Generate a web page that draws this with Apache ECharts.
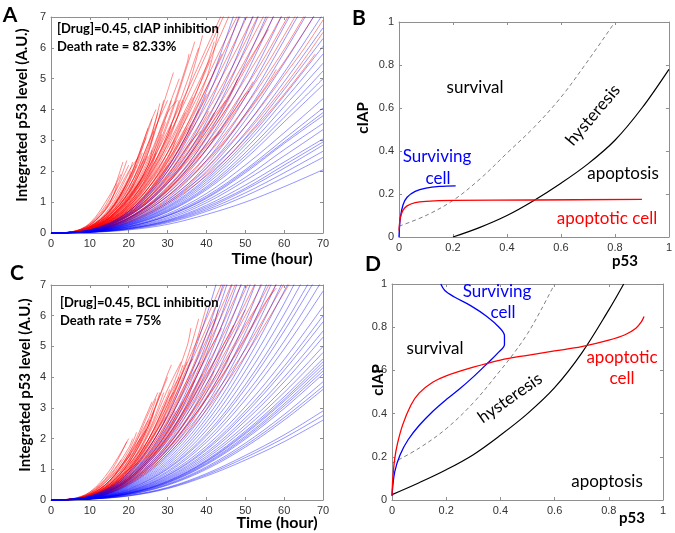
<!DOCTYPE html>
<html><head><meta charset="utf-8">
<script src="https://cdn.jsdelivr.net/npm/echarts@6/dist/echarts.min.js"></script>
<style>html,body{margin:0;padding:0;background:#fff}#c{width:675px;height:533px}</style>
</head><body><div id="c"></div>
<script>
// ---------- DATA ----------
// Red traces (dead cells): [endTime, y at t=0,5,10,... (before endTime), y at endTime]
const redTracesA = [
 [18.5,0,0.03,0.3,1.1,2.3],[19.5,0,0.03,0.26,0.95,2.35],[17,0,0.03,0.25,0.95,1.6],
 [21,0,0.03,0.22,0.8,1.95,2.3],[22,0,0.02,0.2,0.7,1.7,2.2],[23.5,0,0.02,0.2,0.7,1.6,2.6],
 [24.5,0,0.02,0.18,0.65,1.75,3.1],[26,0,0.02,0.18,0.65,1.6,3.3,3.7],[26.5,0,0.02,0.15,0.55,1.3,2.6,3.3],
 [21.5,0,0.02,0.18,0.6,1.3,1.6],[23,0,0.02,0.15,0.5,1.2,1.7],[19,0,0.02,0.2,0.7,1.5],
 [24,0,0.02,0.15,0.5,1.1,1.9],[20.5,0,0.02,0.22,0.75,1.8,2.0],[28,0,0.02,0.15,0.55,1.35,2.8,4.2],
 [29,0,0.02,0.14,0.5,1.25,2.6,4.3],[31,0,0.02,0.12,0.45,1.1,2.2,3.9,4.3],[33,0,0.02,0.12,0.4,0.95,1.9,3.2,4.3],
 [34,0,0.02,0.1,0.36,0.85,1.7,2.9,4.3],[36.5,0,0.02,0.1,0.33,0.8,1.55,2.6,4.0,4.4],[32,0,0.02,0.1,0.32,0.75,1.45,2.4,3.0],
 [30,0,0.02,0.1,0.3,0.7,1.35,2.2],[27,0,0.02,0.12,0.4,0.95,1.9,2.6],[37,0,0.02,0.13,0.42,1.0,2.0,3.5,5.4,6.2],
 [38,0,0.02,0.12,0.4,0.95,1.85,3.2,4.9,6.0],[39,0,0.02,0.11,0.38,0.9,1.75,3.0,4.6,6.4],[33,0,0.02,0.14,0.5,1.2,2.4,4.0,5.0],
 [31.5,0,0.02,0.16,0.55,1.35,2.7,4.6,5.2],[35,0,0.02,0.1,0.3,0.7,1.3,2.2,3.4],[38,0,0.02,0.09,0.28,0.65,1.25,2.1,3.2,4.0],
 [40,0,0.02,0.09,0.27,0.62,1.2,2.0,3.1,4.5],[42,0,0.02,0.1,0.32,0.75,1.45,2.45,3.8,5.4,6.2],[43,0,0.02,0.09,0.3,0.7,1.35,2.3,3.5,5.0,6.5],
 [29.5,0,0.02,0.13,0.45,1.1,2.2,3.6],[25,0,0.02,0.16,0.55,1.3,2.5],[27.5,0,0.02,0.17,0.6,1.45,2.9,3.9],
 [20,0,0.03,0.28,1.0,2.2],[22.5,0,0.03,0.25,0.9,2.0,2.45],[18,0,0.03,0.32,1.2,1.9],
 [25,0,0.02,0.2,0.72,1.75,3.4],[27,0,0.02,0.2,0.7,1.7,3.4,4.0],[30,0,0.02,0.17,0.6,1.45,2.9,4.3],
 [32.5,0,0.02,0.14,0.48,1.15,2.3,3.9,4.3],[35.5,0,0.02,0.13,0.44,1.05,2.1,3.6,5.5,5.8],
 [42,0,0.02,0.08,0.24,0.55,1.02,1.65,2.45,3.45,3.9],[46,0,0.02,0.07,0.22,0.5,0.92,1.5,2.2,3.05,4.0,4.2],
 [51,0,0.02,0.07,0.21,0.46,0.84,1.35,1.98,2.72,3.56,4.5,4.6],[44,0,0.02,0.07,0.22,0.48,0.88,1.42,2.08,2.85,3.3],
 [38.5,0,0.02,0.09,0.28,0.62,1.15,1.88,2.8,3.3],[36,0,0.02,0.1,0.31,0.7,1.3,2.15,3.2,3.5],
 [40.5,0,0.02,0.08,0.26,0.6,1.1,1.8,2.7,3.8,3.95],[28.5,0,0.02,0.13,0.45,1.05,2.05,3.2],
 [31,0,0.02,0.11,0.38,0.9,1.8,3.1,3.5],[34.5,0,0.02,0.11,0.36,0.85,1.65,2.75,3.9],
 [24,0,0.02,0.18,0.6,1.5,2.4],[26,0,0.02,0.14,0.48,1.15,2.2,2.7],
 [46,0,0.02,0.15,0.5,1.15,2.1,3.3,4.6,6.0,7.4,7.8],[48,0,0.02,0.14,0.47,1.1,1.95,3.1,4.4,5.8,7.2,8.2],
 [50,0,0.02,0.13,0.43,1.0,1.8,2.85,4.1,5.4,6.8,8.3],[52,0,0.02,0.12,0.4,0.92,1.65,2.6,3.75,5.0,6.3,7.6,8.5],
 [54,0,0.02,0.11,0.37,0.85,1.55,2.45,3.5,4.7,6.0,7.4,8.5],[56,0,0.02,0.11,0.35,0.8,1.45,2.3,3.3,4.4,5.6,6.9,8.2,8.6],
 [56,0,0.02,0.1,0.33,0.75,1.35,2.15,3.1,4.15,5.3,6.5,7.8,8.1],[60,0,0.02,0.1,0.31,0.7,1.28,2.0,2.9,3.9,5.0,6.2,7.5,8.9],
 [62,0,0.02,0.09,0.29,0.66,1.2,1.9,2.75,3.7,4.75,5.9,7.1,8.4,8.9],[60,0,0.02,0.09,0.28,0.63,1.13,1.8,2.6,3.5,4.5,5.6,6.8,8.1],
 [62,0,0.02,0.08,0.26,0.58,1.05,1.68,2.42,3.3,4.25,5.3,6.45,7.7,8.2],[65,0,0.02,0.08,0.25,0.55,1.0,1.6,2.3,3.1,4.0,5.0,6.05,7.2,8.4],
 [70,0,0.02,0.07,0.23,0.5,0.92,1.48,2.15,2.9,3.75,4.7,5.7,6.8,7.9,9.0],[70,0,0.02,0.07,0.22,0.47,0.86,1.38,2.0,2.7,3.5,4.4,5.35,6.4,7.5,8.6],
 [70,0,0.02,0.06,0.2,0.44,0.8,1.28,1.85,2.5,3.25,4.1,5.0,5.95,7.0,8.1],[70,0,0.02,0.06,0.19,0.41,0.74,1.18,1.7,2.3,3.0,3.8,4.65,5.55,6.5,7.5],
 [70,0,0.02,0.06,0.18,0.38,0.68,1.08,1.56,2.1,2.75,3.45,4.25,5.1,5.95,6.9],[70,0,0.02,0.05,0.17,0.36,0.64,1.0,1.45,1.95,2.55,3.2,3.95,4.75,5.6,6.5],
 [68,0,0.02,0.05,0.16,0.34,0.6,0.95,1.37,1.85,2.4,3.05,3.75,4.5,5.3,5.8],[58,0,0.02,0.06,0.19,0.42,0.76,1.2,1.75,2.35,3.05,3.85,4.7,5.3],
 [52,0,0.02,0.07,0.22,0.48,0.88,1.4,2.05,2.8,3.6,4.5,4.9],[48,0,0.02,0.08,0.25,0.56,1.0,1.6,2.35,3.2,4.15,5.0],
 [45,0,0.02,0.08,0.27,0.6,1.1,1.75,2.55,3.45,4.3],[56,0,0.02,0.08,0.26,0.58,1.04,1.65,2.4,3.3,4.3,5.4,6.4,6.6],
 [44,0,0.02,0.1,0.33,0.78,1.45,2.35,3.4,4.7,5.8],[41,0,0.02,0.11,0.36,0.85,1.6,2.6,3.9,5.3,5.6]
];
// Blue traces (surviving cells): y at t=0,10,20,...
const blueTracesA = [
 [0,0.02,0.1,0.28,0.6,1.0,1.5,2.05],[0,0.02,0.12,0.33,0.7,1.2,1.8,2.45],[0,0.03,0.13,0.36,0.75,1.3,1.95,2.65],
 [0,0.03,0.14,0.38,0.8,1.4,2.1,2.85],[0,0.03,0.15,0.4,0.85,1.45,2.2,2.95],[0,0.03,0.15,0.42,0.9,1.55,2.3,3.05],
 [0,0.03,0.17,0.46,0.98,1.7,2.5,3.35],[0,0.03,0.18,0.5,1.05,1.8,2.7,3.55],[0,0.04,0.2,0.55,1.12,1.95,2.9,3.8],
 [0,0.04,0.2,0.56,1.15,2.0,2.95,3.9],[0,0.04,0.21,0.58,1.2,2.05,3.05,4.05],[0,0.04,0.22,0.62,1.28,2.2,3.25,4.35],
 [0,0.04,0.24,0.68,1.4,2.4,3.6,4.8],[0,0.05,0.25,0.7,1.45,2.5,3.75,5.0],[0,0.05,0.26,0.73,1.5,2.6,3.9,5.25],
 [0,0.05,0.27,0.76,1.58,2.72,4.1,5.5],[0,0.05,0.28,0.8,1.65,2.85,4.3,5.8],[0,0.05,0.3,0.83,1.72,2.95,4.45,6.05],
 [0,0.05,0.3,0.86,1.78,3.08,4.65,6.3],[0,0.06,0.32,0.9,1.88,3.25,4.9,6.65],[0,0.06,0.33,0.95,2.0,3.45,5.2,7.1],
 [0,0.06,0.35,1.0,2.1,3.65,5.5,7.5],[0,0.06,0.37,1.05,2.2,3.85,5.85,8],[0,0.07,0.4,1.12,2.35,4.1,6.25,8.5],
 [0,0.07,0.42,1.2,2.5,4.4,6.7,9],[0,0.07,0.45,1.28,2.7,4.7,7.2],[0,0.08,0.48,1.38,2.9,5.1,7.8],
 [0,0.08,0.5,1.45,3.1,5.5,8.4],[0,0.09,0.55,1.6,3.4,6.0,9.2],[0,0.09,0.58,1.7,3.6,6.4,9.8],
 [0,0.1,0.62,1.85,3.95,7.0],[0,0.1,0.66,2.0,4.3,7.6],[0,0.11,0.7,2.1,4.6,8.2]
];
const redTracesC = [
 [19.5,0,0.03,0.25,0.85,1.9],[20.5,0,0.02,0.2,0.7,1.4,1.5],[21,0,0.03,0.22,0.75,1.7,2.0],
 [22,0,0.02,0.2,0.7,1.6,2.2],[23,0,0.02,0.17,0.6,1.4,2.0],[18,0,0.03,0.22,0.8,1.3],
 [24,0,0.02,0.15,0.5,1.15,1.8],[25.5,0,0.02,0.16,0.55,1.3,2.4,2.6],[26.5,0,0.02,0.15,0.5,1.2,2.3,2.9],
 [27,0,0.02,0.16,0.55,1.3,2.6,3.3],[28,0,0.02,0.15,0.5,1.2,2.4,3.5],[29,0,0.02,0.14,0.48,1.12,2.2,3.5],
 [22.5,0,0.02,0.14,0.45,1.0,1.2],[30.5,0,0.02,0.13,0.45,1.05,2.1,3.4,3.6],[31,0,0.02,0.14,0.5,1.2,2.4,4.1,4.4],
 [33,0,0.02,0.12,0.42,1.0,1.95,3.3,4.0],[35,0,0.02,0.11,0.38,0.9,1.75,2.95,4.5],[36,0,0.02,0.12,0.42,1.0,1.95,3.3,5.0,5.6],
 [38,0,0.02,0.11,0.38,0.92,1.8,3.0,4.6,5.9],[40,0,0.02,0.1,0.35,0.85,1.65,2.75,4.2,6.3],[32,0,0.02,0.1,0.32,0.75,1.45,2.4,2.9],
 [34,0,0.02,0.1,0.3,0.7,1.35,2.25,3.2],[37,0,0.02,0.1,0.3,0.68,1.3,2.15,3.3,3.9],[29.5,0,0.02,0.12,0.4,0.95,1.85,2.7],
 [39,0,0.02,0.09,0.28,0.65,1.25,2.05,3.1,4.1],[41,0,0.02,0.09,0.28,0.64,1.22,2.0,3.05,4.3,4.6],[43,0,0.02,0.09,0.3,0.7,1.35,2.25,3.45,4.9,6.2],
 [26,0,0.02,0.18,0.62,1.5,2.9,3.2],[33.5,0,0.02,0.13,0.46,1.1,2.15,3.6,4.5],
 [20,0,0.03,0.26,0.95,2.0],[24.5,0,0.02,0.18,0.62,1.45,2.3],[27.5,0,0.02,0.17,0.6,1.4,2.8,3.5],
 [30,0,0.02,0.15,0.52,1.25,2.5,4.0],[34,0,0.02,0.12,0.4,0.95,1.85,3.1,4.4],[38.5,0,0.02,0.1,0.33,0.78,1.5,2.5,3.8,4.5],
 [42,0,0.02,0.08,0.25,0.58,1.08,1.75,2.6,3.65,4.2],[46,0,0.02,0.08,0.24,0.54,1.0,1.62,2.4,3.35,4.4,4.7],
 [36.5,0,0.02,0.11,0.36,0.85,1.65,2.8,4.3,4.6],[25,0,0.02,0.18,0.62,1.5,2.6],[31.5,0,0.02,0.12,0.42,1.0,1.95,3.2,3.5],
 [46,0,0.02,0.13,0.45,1.05,1.95,3.1,4.45,5.9,7.4,8.0],[48,0,0.02,0.12,0.42,0.98,1.8,2.9,4.2,5.6,7.1,7.9],
 [50,0,0.02,0.11,0.39,0.9,1.68,2.7,3.9,5.2,6.6,8.1],[52,0,0.02,0.11,0.37,0.85,1.58,2.55,3.7,4.95,6.3,7.8,8.4],
 [55,0,0.02,0.1,0.34,0.8,1.48,2.4,3.45,4.65,5.95,7.3,8.7],[57,0,0.02,0.1,0.32,0.75,1.38,2.22,3.22,4.35,5.55,6.85,8.2,8.8],
 [60,0,0.02,0.09,0.3,0.7,1.28,2.06,3.0,4.05,5.2,6.4,7.7,9.0],[62,0,0.02,0.09,0.28,0.65,1.2,1.93,2.8,3.78,4.85,6.0,7.2,8.5,9.0],
 [65,0,0.02,0.08,0.26,0.6,1.1,1.78,2.6,3.5,4.5,5.6,6.75,8.0,9.2],[60,0,0.02,0.08,0.24,0.56,1.03,1.66,2.43,3.28,4.22,5.25,6.35,7.5],
 [65,0,0.02,0.07,0.23,0.52,0.96,1.55,2.27,3.07,3.95,4.9,5.95,7.05,8.1],[66,0,0.02,0.07,0.22,0.5,0.92,1.48,2.16,2.93,3.78,4.7,5.7,6.75,7.8,8.0],
 [58,0,0.02,0.08,0.25,0.57,1.05,1.68,2.45,3.3,4.25,5.3,6.4,6.9],[54,0,0.02,0.08,0.27,0.62,1.14,1.82,2.65,3.6,4.6,5.7,6.5],
 [50,0,0.02,0.09,0.29,0.68,1.25,2.0,2.9,3.95,5.05,6.2],[47,0,0.02,0.09,0.3,0.7,1.3,2.1,3.05,4.1,5.2,5.7],
 [44,0,0.02,0.1,0.32,0.75,1.4,2.3,3.4,4.7,5.6],[42,0,0.02,0.11,0.36,0.85,1.6,2.6,3.9,5.4,5.9]
];
const blueTracesC = [
 [0,0.03,0.13,0.37,0.78,1.3,1.9,2.6],[0,0.03,0.14,0.39,0.82,1.38,2.02,2.75],[0,0.03,0.15,0.41,0.86,1.45,2.12,2.9],
 [0,0.03,0.17,0.48,1.0,1.72,2.6,3.6],[0,0.03,0.18,0.5,1.04,1.78,2.68,3.7],[0,0.04,0.19,0.52,1.08,1.85,2.78,3.85],
 [0,0.04,0.2,0.55,1.15,1.98,2.98,4.1],[0,0.04,0.21,0.57,1.18,2.03,3.06,4.2],[0,0.04,0.21,0.58,1.21,2.08,3.13,4.3],
 [0,0.04,0.22,0.6,1.25,2.15,3.22,4.4],[0,0.04,0.22,0.61,1.27,2.19,3.28,4.5],[0,0.04,0.23,0.63,1.3,2.24,3.36,4.6],
 [0,0.04,0.24,0.66,1.36,2.34,3.5,4.8],[0,0.05,0.25,0.69,1.42,2.44,3.65,5.0],[0,0.05,0.26,0.72,1.49,2.57,3.85,5.3],
 [0,0.05,0.27,0.75,1.55,2.67,4.0,5.5],[0,0.05,0.28,0.79,1.63,2.81,4.22,5.8],[0,0.05,0.29,0.81,1.68,2.9,4.35,6.0],
 [0,0.05,0.3,0.85,1.76,3.04,4.57,6.3],[0,0.06,0.32,0.9,1.88,3.26,4.92,6.8],[0,0.06,0.33,0.94,1.97,3.42,5.17,7.2],
 [0,0.06,0.35,1.0,2.08,3.62,5.5,7.6],[0,0.06,0.36,1.03,2.15,3.75,5.7,7.9],[0,0.07,0.38,1.08,2.27,3.97,6.05,8.4],
 [0,0.07,0.4,1.14,2.4,4.2,6.4,8.9],[0,0.07,0.42,1.2,2.53,4.43,6.8,9.2],[0,0.07,0.44,1.26,2.66,4.67,7.2],
 [0,0.08,0.46,1.33,2.8,4.93,7.6],[0,0.08,0.48,1.4,2.95,5.2,8.0],[0,0.08,0.5,1.46,3.1,5.45,8.4],
 [0,0.09,0.53,1.55,3.3,5.8,9.0],[0,0.09,0.56,1.65,3.5,6.2,9.6],[0,0.1,0.6,1.75,3.75,6.6,10.2],
 [0,0.1,0.63,1.85,3.97,7.0],[0,0.1,0.66,1.95,4.2,7.4],[0,0.11,0.7,2.07,4.45,7.8],
 [0,0.11,0.74,2.2,4.75,8.3],[0,0.12,0.78,2.35,5.1,8.9],[0,0.12,0.82,2.5,5.4,9.4],[0,0.13,0.9,2.75,6.0,10.5]
];
// Panel B curves [p53, cIAP]
const bApoptosisBoundary = [[0.2,0],[0.3,0.045],[0.4,0.1],[0.5,0.17],[0.6,0.25],[0.7,0.34],[0.8,0.45],[0.9,0.6],[1,0.78]];
const bSurvivalBoundary = [[0,0.05],[0.1,0.1],[0.2,0.17],[0.3,0.27],[0.4,0.39],[0.5,0.51],[0.6,0.65],[0.7,0.82],[0.8,1.0]];
const bSurvivingCell = [[0,0],[0.005,0.09],[0.015,0.15],[0.03,0.185],[0.06,0.212],[0.1,0.227],[0.15,0.235],[0.21,0.238]];
const bApoptoticCell = [[0,0.03],[0.005,0.09],[0.015,0.125],[0.03,0.145],[0.06,0.16],[0.1,0.166],[0.2,0.17],[0.5,0.172],[0.9,0.175]];
// Panel D curves
const dApoptosisBoundary = [[0,0.025],[0.1,0.08],[0.2,0.14],[0.3,0.21],[0.4,0.3],[0.5,0.4],[0.6,0.52],[0.7,0.68],[0.8,0.88],[0.855,1.0]];
const dSurvivalBoundary = [[0,0.17],[0.1,0.24],[0.2,0.33],[0.3,0.45],[0.4,0.6],[0.45,0.68],[0.5,0.77],[0.55,0.88],[0.6,1.0]];
const dSurvivingCell = [[0,0.02],[0.01,0.13],[0.03,0.21],[0.06,0.28],[0.1,0.345],[0.15,0.41],[0.2,0.465],[0.25,0.515],[0.3,0.57],[0.35,0.63],[0.39,0.68],[0.415,0.72],[0.415,0.76],[0.395,0.8],[0.35,0.85],[0.29,0.9],[0.23,0.94],[0.195,0.97],[0.18,1.0]];
const dApoptoticCell = [[0,0.02],[0.003,0.1],[0.01,0.19],[0.02,0.26],[0.04,0.35],[0.07,0.44],[0.1,0.495],[0.15,0.545],[0.2,0.575],[0.3,0.615],[0.4,0.648],[0.5,0.67],[0.6,0.69],[0.7,0.71],[0.8,0.74],[0.86,0.765],[0.9,0.795],[0.92,0.825],[0.93,0.85]];

// ---------- CHART ----------
const tickFont = '"Liberation Sans", Arial, sans-serif';
const AX = '#8f8f8f', LBL = '#333';
const chart = echarts.init(document.getElementById('c'), null, {renderer: 'canvas'});

function axisPair(gi, min, max, interval, isX) {
  const base = {gridIndex: gi, type: 'value', min, max, interval, splitLine: {show: false},
    axisLine: {show: true, onZero: false, lineStyle: {color: AX, width: 1}},
    axisTick: {show: true, inside: true, length: 3, lineStyle: {color: AX}}};
  return [
    Object.assign({}, base, {position: isX ? 'bottom' : 'left',
      axisLabel: {show: true, color: LBL, fontSize: 11, fontFamily: tickFont, margin: 5}}),
    Object.assign({}, base, {position: isX ? 'top' : 'right', axisLabel: {show: false}})
  ];
}
const grids = [
  {left: 51, top: 17, width: 272, height: 216},
  {left: 399, top: 22, width: 272, height: 215},
  {left: 51, top: 285, width: 272, height: 215},
  {left: 392, top: 284, width: 271, height: 216}
];
const xAxes = [].concat(axisPair(0, 0, 70, 10, true), axisPair(1, 0, 1, 0.2, true),
                        axisPair(2, 0, 70, 10, true), axisPair(3, 0, 1, 0.2, true));
const yAxes = [].concat(axisPair(0, 0, 7, 1, false), axisPair(1, 0, 1, 0.2, false),
                        axisPair(2, 0, 7, 1, false), axisPair(3, 0, 1, 0.2, false));

function redPts(tr) {
  const tEnd = tr[0], ys = tr.slice(1), pts = [];
  for (let i = 0; i < ys.length - 1; i++) { if (5 * i < tEnd) pts.push([5 * i, ys[i]]); }
  pts.push([tEnd, ys[ys.length - 1]]);
  return pts;
}
function bluePts(tr) { return tr.map((y, i) => [10 * i, y]); }
function lineS(pts, color, ai, opts) {
  return Object.assign({type: 'line', xAxisIndex: ai, yAxisIndex: ai, data: pts, smooth: 0.35,
    symbol: 'none', silent: true, animation: false, clip: true,
    lineStyle: {color, width: 1}, itemStyle: {color}, emphasis: {disabled: true}}, opts || {});
}
const RED = 'rgba(255,0,0,0.45)', BLUE = 'rgba(0,0,255,0.42)';
const series = [];
redTracesA.forEach(t => series.push(lineS(redPts(t), RED, 0)));
blueTracesA.forEach(t => series.push(lineS(bluePts(t), BLUE, 0)));
redTracesC.forEach(t => series.push(lineS(redPts(t), RED, 4)));
blueTracesC.forEach(t => series.push(lineS(bluePts(t), BLUE, 4)));
const dash = {lineStyle: {color: '#808080', width: 1, type: [4, 3]}};
series.push(lineS(bSurvivalBoundary, '#808080', 2, dash));
series.push(lineS(bApoptosisBoundary, '#000', 2, {lineStyle: {color: '#000', width: 1.2}}));
series.push(lineS(bSurvivingCell, '#0000ff', 2, {lineStyle: {color: '#0000ff', width: 1.3}}));
series.push(lineS(bApoptoticCell, '#ff0000', 2, {lineStyle: {color: '#ff0000', width: 1.3}}));
series.push(lineS(dSurvivalBoundary, '#808080', 6, dash));
series.push(lineS(dApoptosisBoundary, '#000', 6, {lineStyle: {color: '#000', width: 1.2}}));
series.push(lineS(dSurvivingCell, '#0000ff', 6, {lineStyle: {color: '#0000ff', width: 1.3}}));
series.push(lineS(dApoptoticCell, '#ff0000', 6, {lineStyle: {color: '#ff0000', width: 1.3}}));

function txt(x, y, text, font, fill, rot, align) {
  const a = align || 'center';
  return {type: 'text', x, y, rotation: rot || 0, silent: true, z: 100,
    style: {text, x: 0, y: 0, font, fill: fill || '#000', align: a, verticalAlign: 'middle',
            textAlign: a, textVerticalAlign: 'middle'}};
}
const BOLD = (s) => 'bold ' + s + 'px Lato, sans-serif';
const REG = (s) => s + 'px Lato, sans-serif';
const R90 = Math.PI / 2;
const graphics = [
  txt(10, 15, 'A', BOLD(21)), txt(359, 18, 'B', BOLD(21)), txt(17, 273, 'C', BOLD(21)), txt(373, 264, 'D', BOLD(21)),
  txt(272, 259, 'Time (hour)', BOLD(16)), txt(277, 523, 'Time (hour)', BOLD(16)),
  txt(22, 115, 'Integrated p53 level (A.U.)', BOLD(15), '#000', R90),
  txt(25, 385, 'Integrated p53 level (A.U.)', BOLD(15), '#000', R90),
  txt(57, 29, '[Drug]=0.45, cIAP inhibition', BOLD(13), '#000', 0, 'left'),
  txt(57, 47, 'Death rate = 82.33%', BOLD(13), '#000', 0, 'left'),
  txt(60, 303, '[Drug]=0.45, BCL inhibition', BOLD(13), '#000', 0, 'left'),
  txt(60, 321, 'Death rate = 75%', BOLD(13), '#000', 0, 'left'),
  txt(625, 261, 'p53', BOLD(15)), txt(363, 118, 'cIAP', BOLD(15), '#000', R90),
  txt(632, 518, 'p53', BOLD(15)), txt(378, 380, 'cIAP', BOLD(15), '#000', R90),
  txt(475, 88, 'survival', REG(17)), txt(593, 115, 'hysteresis', REG(17), '#000', 0.87),
  txt(623, 174, 'apoptosis', REG(17)), txt(437, 157, 'Surviving', REG(17), '#0000ff'),
  txt(438, 179, 'cell', REG(17), '#0000ff'), txt(607, 219, 'apoptotic cell', REG(17), '#ff0000'),
  txt(435, 349, 'survival', REG(17)), txt(510, 398, 'hysteresis', REG(17), '#000', 0.61),
  txt(607, 482, 'apoptosis', REG(17)), txt(497, 292, 'Surviving', REG(17), '#0000ff'),
  txt(503, 313, 'cell', REG(17), '#0000ff'), txt(622, 358, 'apoptotic', REG(17), '#ff0000'),
  txt(622, 379, 'cell', REG(17), '#ff0000')
];

chart.setOption({
  animation: false,
  backgroundColor: '#fff',
  grid: grids,
  xAxis: xAxes,
  yAxis: yAxes,
  series,
  graphic: graphics
});
</script></body></html>
